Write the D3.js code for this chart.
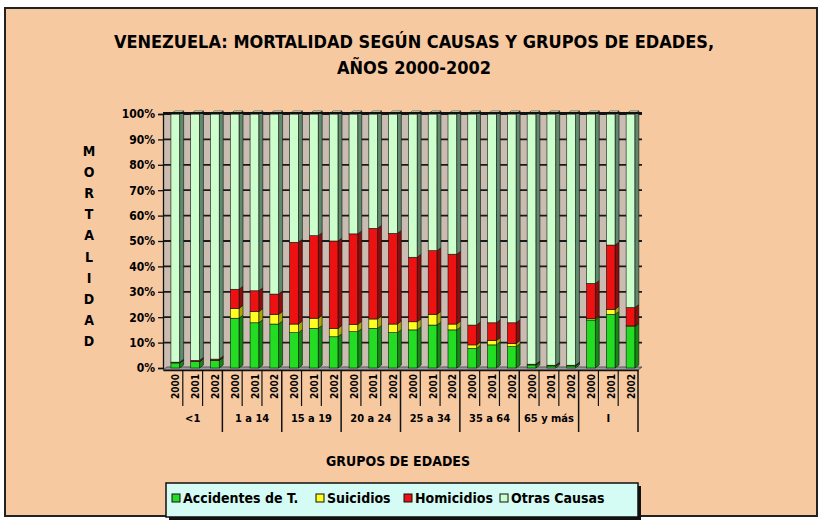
<!DOCTYPE html>
<html lang="es">
    <head>
        <meta charset="UTF-8">
        <title>Venezuela: Mortalidad según causas</title>
        <style>
            body {
            margin: 0;
            padding: 0;
            background: #ffffff;
            }
            svg text {
            font-family: "Liberation Sans Narrow", "Arial Narrow", "DejaVu Sans Condensed", sans-serif;
            font-weight: bold;
            fill: #000;
            }
        </style>
    </head>
    <body>
        <div id="chart"></div>

        <script src="https://d3js.org/d3.v7.min.js"></script>

        <script>
            const grupos = ["<1", "1 a 14", "15 a 19", "20 a 24", "25 a 34", "35 a 64", "65 y más", "I"];
            const anios = ["2000", "2001", "2002"];
            const causas = ["Accidentes de T.", "Suicidios", "Homicidios", "Otras Causas"];
            const yTicks = [0, 0.1, 0.2, 0.3, 0.4, 0.5, 0.6, 0.7, 0.8, 0.9, 1];

            // porcentajes por barra (grupo x año)
            const accidentes = [2.0, 2.5, 3.0, 19.6, 17.8, 17.3, 13.9, 15.6, 12.3, 14.3, 15.6, 13.9,
                15.0, 16.9, 15.0, 7.7, 9.1, 8.4, 1.2, 0.8, 0.8, 18.9, 21.1, 16.3];
            const suicidios = [0, 0, 0, 3.9, 4.4, 3.8, 3.4, 4.0, 3.3, 2.9, 3.7, 3.4,
                3.2, 4.2, 2.3, 1.4, 1.7, 1.3, 0, 0, 0, 0.5, 2.0, 0.3];
            const homicidios = [0.3, 0.5, 0.5, 7.5, 8.2, 8.0, 32.2, 32.5, 34.4, 35.6, 35.7, 35.7,
                25.4, 25.1, 27.5, 7.8, 7.0, 8.1, 0.3, 0.3, 0.3, 13.9, 25.3, 7.2];
            const otras = [97.7, 97.0, 96.5, 69.0, 69.6, 70.9, 50.5, 47.9, 50.0, 47.2, 45.0, 47.0,
                56.4, 53.8, 55.2, 83.1, 82.2, 82.2, 98.5, 98.9, 98.9, 66.7, 51.6, 76.2];

            const colores = ["#22dd22", "#ffff22", "#ee1111", "#ccffcc"];
            const lados = ["#118a11", "#a8a800", "#8a0e0e", "#5f8a6c"];

            const width = 820, height = 520;
            const plot = { left: 163, right: 638, top: 114, bottom: 368 };
            const dx = 4, dy = -3;

            const svg = d3.select('#chart')
            .append('svg')
            .attr('width', width)
            .attr('height', height);

            // fondo y marco
            svg.append('rect')
            .attr('x', 5).attr('y', 8)
            .attr('width', 812).attr('height', 508)
            .attr('fill', '#f6c9a1')
            .attr('stroke', '#222')
            .attr('stroke-width', 2);

            // título
            const title = svg.append('text')
            .attr('x', 414).attr('y', 48)
            .attr('text-anchor', 'middle')
            .style('font-size', '18px');
            title.append('tspan').attr('x', 414).text('VENEZUELA: MORTALIDAD SEGÚN CAUSAS Y GRUPOS DE EDADES,');
            title.append('tspan').attr('x', 414).attr('dy', 26).text('AÑOS 2000-2002');

            const barras = [];
            grupos.forEach((g, gi) => {
                anios.forEach((a, ai) => {
                    const i = gi * anios.length + ai;
                    barras.push({
                        key: g + '|' + a, grupo: g, anio: a,
                        "Accidentes de T.": accidentes[i],
                        "Suicidios": suicidios[i],
                        "Homicidios": homicidios[i],
                        "Otras Causas": otras[i]
                    });
                });
            });

            const xScale = d3.scaleBand()
            .domain(barras.map(d => d.key))
            .range([plot.left, plot.right]);

            const xGroup = d3.scaleBand()
            .domain(grupos)
            .range([plot.left, plot.right]);

            const yScale = d3.scaleLinear()
            .domain([0, 1])
            .range([plot.bottom, plot.top]);

            // pared del fondo
            svg.append('rect')
            .attr('x', plot.left).attr('y', plot.top)
            .attr('width', plot.right - plot.left)
            .attr('height', plot.bottom - plot.top)
            .attr('fill', '#cbbcb2');

            // líneas de división
            svg.append('g')
            .selectAll('line')
            .data(yTicks.slice(1))
            .enter().append('line')
            .attr('x1', plot.left).attr('x2', plot.right + dx)
            .attr('y1', d => yScale(d)).attr('y2', d => yScale(d))
            .attr('stroke', '#1a1a1a')
            .attr('stroke-width', 1.8);

            // piso
            svg.append('path')
            .attr('d', `M${plot.left},${plot.bottom + 2}L${plot.left + dx},${plot.bottom + 2 + dy}` +
                `L${plot.right + dx},${plot.bottom + 2 + dy}L${plot.right},${plot.bottom + 2}Z`)
            .attr('fill', '#9a9a9a')
            .attr('stroke', '#555');

            const series = d3.stack()
            .keys(causas)
            .offset(d3.stackOffsetExpand)(barras);

            const bw = xScale.bandwidth();
            const fx = d => xScale(d.data.key) + bw * 0.4;
            const fw = bw * 0.44;

            const capas = svg.append('g')
            .selectAll('g')
            .data(series)
            .enter().append('g');

            // cara lateral
            capas.selectAll('.lado')
            .data((s, si) => s.map(d => Object.assign(d, { si: si })))
            .enter().append('path')
            .attr('class', 'lado')
            .attr('d', d => {
                const x = fx(d) + fw, y0 = yScale(d[0]), y1 = yScale(d[1]);
                return `M${x},${y1}L${x + dx},${y1 + dy}L${x + dx},${y0 + dy}L${x},${y0}Z`;
            })
            .attr('fill', d => lados[d.si])
            .attr('stroke', '#111')
            .attr('stroke-width', 0.6);

            // cara frontal
            capas.selectAll('.frente')
            .data(s => s)
            .enter().append('rect')
            .attr('class', 'frente')
            .attr('x', d => fx(d))
            .attr('width', fw)
            .attr('y', d => yScale(d[1]))
            .attr('height', d => yScale(d[0]) - yScale(d[1]))
            .attr('fill', d => colores[d.si])
            .attr('stroke', '#111')
            .attr('stroke-width', 0.6);

            // tapa superior
            svg.append('g')
            .selectAll('path')
            .data(series[series.length - 1])
            .enter().append('path')
            .attr('d', d => {
                const x = fx(d), y = yScale(d[1]);
                return `M${x},${y}L${x + dx},${y + dy}L${x + fw + dx},${y + dy}L${x + fw},${y}Z`;
            })
            .attr('fill', '#e6ffe6')
            .attr('stroke', '#111')
            .attr('stroke-width', 0.6);

            // borde superior del área
            svg.append('line')
            .attr('x1', plot.left).attr('x2', plot.right + dx)
            .attr('y1', plot.top - 1).attr('y2', plot.top - 1)
            .attr('stroke', '#111')
            .attr('stroke-width', 2);

            // eje Y
            svg.append('g')
            .attr('transform', `translate(${plot.left}, 0)`)
            .call(d3.axisLeft(yScale).tickValues(yTicks).tickFormat(d3.format('.0%')).tickSize(5).tickPadding(3))
            .call(g => g.selectAll('text').style('font-size', '12px'))
            .call(g => g.selectAll('line,path').attr('stroke', '#111').attr('stroke-width', 1.3));

            // eje X: años
            svg.append('g')
            .attr('transform', `translate(0, ${plot.bottom + 2})`)
            .call(d3.axisBottom(xScale).tickSize(0).tickFormat(k => k.split('|')[1]))
            .call(g => g.select('.domain').attr('stroke', '#111').attr('stroke-width', 1.5))
            .selectAll('text')
            .style('font-size', '10px')
            .attr('text-anchor', 'end')
            .attr('dy', '0.35em')
            .attr('transform', 'translate(0, 4) rotate(-90)');

            // separadores cortos entre años
            svg.append('g')
            .selectAll('line')
            .data(barras.filter((d, i) => i % anios.length !== 0))
            .enter().append('line')
            .attr('x1', d => xScale(d.key)).attr('x2', d => xScale(d.key))
            .attr('y1', plot.bottom + 2).attr('y2', plot.bottom + 38)
            .attr('stroke', '#111').attr('stroke-width', 1.2);

            // separadores largos entre grupos
            svg.append('g')
            .selectAll('line')
            .data(grupos.slice(1).concat(['fin']))
            .enter().append('line')
            .attr('x1', d => d === 'fin' ? plot.right : xGroup(d))
            .attr('x2', d => d === 'fin' ? plot.right : xGroup(d))
            .attr('y1', plot.bottom + 2).attr('y2', plot.bottom + 64)
            .attr('stroke', '#111').attr('stroke-width', 1.5);

            // etiquetas de grupo
            svg.append('g')
            .selectAll('text')
            .data(grupos)
            .enter().append('text')
            .attr('x', d => xGroup(d) + xGroup.bandwidth() / 2)
            .attr('y', plot.bottom + 54)
            .attr('text-anchor', 'middle')
            .style('font-size', '11px')
            .text(d => d);

            // título eje X
            svg.append('text')
            .attr('x', 398).attr('y', 466)
            .attr('text-anchor', 'middle')
            .style('font-size', '14px')
            .text('GRUPOS DE EDADES');

            // título eje Y en letras apiladas
            svg.append('g')
            .selectAll('text')
            .data('MORTALIDAD'.split(''))
            .enter().append('text')
            .attr('x', 89)
            .attr('y', (d, i) => 156 + i * 21.1)
            .attr('text-anchor', 'middle')
            .style('font-size', '14px')
            .text(d => d);

            // leyenda
            const legend = svg.append('g');
            legend.append('rect')
            .attr('x', 169).attr('y', 486)
            .attr('width', 472).attr('height', 34)
            .attr('fill', '#111');
            legend.append('rect')
            .attr('x', 166).attr('y', 483)
            .attr('width', 472).attr('height', 34)
            .attr('fill', '#d4fbf4')
            .attr('stroke', '#111')
            .attr('stroke-width', 1.5);

            const legendX = d3.scaleOrdinal()
            .domain(causas)
            .range([172, 316, 404, 500]);

            const items = legend.selectAll('.item')
            .data(causas)
            .enter().append('g')
            .attr('class', 'item')
            .attr('transform', d => `translate(${legendX(d)}, 494)`);

            items.append('rect')
            .attr('width', 8).attr('height', 8)
            .attr('fill', (d, i) => colores[i])
            .attr('stroke', '#111');

            items.append('text')
            .attr('x', 11).attr('y', 9)
            .style('font-size', '14px')
            .text(d => d);
        </script>
    </body>
</html>
